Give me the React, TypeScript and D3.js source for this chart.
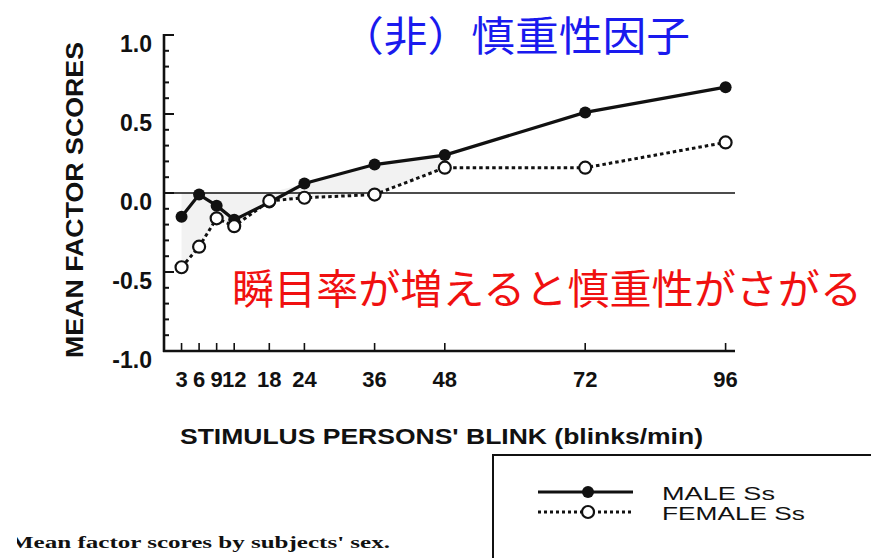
import React from "react";
import * as d3 from "d3";

const blinkRates = [3, 6, 9, 12, 18, 24, 36, 48, 72, 96];
const maleScores = [-0.15, -0.01, -0.08, -0.17, -0.06, 0.06, 0.18, 0.24, 0.51, 0.67];
const femaleScores = [-0.47, -0.34, -0.16, -0.21, -0.05, -0.03, -0.01, 0.16, 0.16, 0.32];
const yTickLabels = ["1.0", "0.5", "0.0", "-0.5", "-1.0"];
const yTickValues = [1, 0.5, 0, -0.5, -1];
const seriesNames = ["MALE Ss", "FEMALE Ss"];

const FONT = "'Liberation Sans', Arial, sans-serif";
const JP = "'Noto Sans CJK JP', 'Noto Sans CJK SC', sans-serif";

export default function App() {
  const x = d3.scaleLinear().domain([0, 96]).range([164, 725.6]);
  const y = d3.scaleLinear().domain([-1, 1]).range([351, 35]);
  const xEnd = 735;

  const male = blinkRates.map((b, i) => ({ b, v: maleScores[i] }));
  const female = blinkRates.map((b, i) => ({ b, v: femaleScores[i] }));

  const line = d3
    .line<{ b: number; v: number }>()
    .x((d) => x(d.b))
    .y((d) => y(d.v));

  const shade = blinkRates
    .map((b, i) => ({ b, top: Math.max(0, maleScores[i]), bot: femaleScores[i] }))
    .filter((d) => d.b <= 48);
  const area = d3
    .area<{ b: number; top: number; bot: number }>()
    .x((d) => x(d.b))
    .y0((d) => y(d.top))
    .y1((d) => y(d.bot));

  const minorTicks = d3.range(-10, 11).map((k) => k / 10);

  return (
    <svg
      width={871}
      height={558}
      style={{ position: "absolute", left: 0, top: 0, background: "#fff" }}
    >
      <defs>
        <clipPath id="capClip">
          <rect x={17} y={500} width={860} height={58} />
        </clipPath>
      </defs>
      <rect x={0} y={0} width={871} height={558} fill="#fff" />

      {/* shaded region */}
      <path d={area(shade) || ""} fill="#f2f2f2" />

      {/* zero line */}
      <line x1={x(0)} x2={xEnd} y1={y(0)} y2={y(0)} stroke="#111" strokeWidth={1.6} />

      {/* y axis */}
      <line x1={x(0)} x2={x(0)} y1={y(1) - 1} y2={y(-1) + 1} stroke="#111" strokeWidth={2.6} />
      {minorTicks.map((t) => (
        <line
          key={t}
          x1={x(0)}
          x2={x(0) + (Math.abs(t * 2 - Math.round(t * 2)) < 1e-6 ? 10 : 5)}
          y1={y(t)}
          y2={y(t)}
          stroke="#111"
          strokeWidth={2}
        />
      ))}
      {yTickValues.map((t, i) => (
        <text
          key={t}
          x={152}
          y={y(t) + 17}
          textAnchor="end"
          fontFamily={FONT}
          fontSize={23}
          fontWeight="bold"
          fill="#111"
        >
          {yTickLabels[i]}
        </text>
      ))}

      {/* x axis */}
      <line x1={x(0) - 1} x2={xEnd} y1={y(-1)} y2={y(-1)} stroke="#111" strokeWidth={2.6} />
      {blinkRates.map((b) => (
        <line key={b} x1={x(b)} x2={x(b)} y1={y(-1)} y2={y(-1) - 8} stroke="#111" strokeWidth={1.6} />
      ))}
      {blinkRates.map((b) => (
        <text
          key={b}
          x={x(b)}
          y={387}
          textAnchor="middle"
          fontFamily={FONT}
          fontSize={22}
          fontWeight="bold"
          fill="#111"
        >
          {b}
        </text>
      ))}

      {/* axis titles */}
      <text
        x={180}
        y={444}
        fontFamily={FONT}
        fontSize={22}
        fontWeight="bold"
        fill="#111"
        textLength={523}
        lengthAdjust="spacingAndGlyphs"
      >
        STIMULUS PERSONS' BLINK (blinks/min)
      </text>
      <text
        transform="translate(83,200) rotate(-90)"
        textAnchor="middle"
        fontFamily={FONT}
        fontSize={23}
        fontWeight="bold"
        fill="#111"
        textLength={316}
        lengthAdjust="spacingAndGlyphs"
      >
        MEAN FACTOR SCORES
      </text>

      {/* series lines */}
      <path d={line(female) || ""} fill="none" stroke="#111" strokeWidth={3} strokeDasharray="3.5 3" />
      <path d={line(male) || ""} fill="none" stroke="#111" strokeWidth={3.2} />
      {male.map((d) => (
        <circle key={"m" + d.b} cx={x(d.b)} cy={y(d.v)} r={6} fill="#111" />
      ))}
      {female.map((d) => (
        <circle key={"f" + d.b} cx={x(d.b)} cy={y(d.v)} r={6} fill="#fff" stroke="#111" strokeWidth={2.2} />
      ))}

      {/* annotations */}
      <text
        x={340}
        y={51}
        fontFamily={JP}
        fontSize={41}
        fill="#1a1aee"
        textLength={350}
        lengthAdjust="spacingAndGlyphs"
      >
        （非）慎重性因子
      </text>
      <text
        x={232}
        y={304}
        fontFamily={JP}
        fontSize={41}
        fill="#f01010"
        textLength={630}
        lengthAdjust="spacingAndGlyphs"
      >
        瞬目率が増えると慎重性がさがる
      </text>

      {/* legend */}
      <rect x={493} y={455} width={400} height={120} fill="#fff" stroke="#111" strokeWidth={2} />
      <line x1={538} x2={633} y1={492} y2={492} stroke="#111" strokeWidth={3} />
      <circle cx={588} cy={492} r={6} fill="#111" />
      <line x1={538} x2={633} y1={512} y2={512} stroke="#111" strokeWidth={3} strokeDasharray="3 3" />
      <circle cx={588} cy={512} r={6} fill="#fff" stroke="#111" strokeWidth={2.2} />
      <text
        x={662}
        y={500}
        fontFamily={FONT}
        fontSize={19}
        fill="#111"
        textLength={113}
        lengthAdjust="spacingAndGlyphs"
      >
        {seriesNames[0]}
      </text>
      <text
        x={662}
        y={520}
        fontFamily={FONT}
        fontSize={19}
        fill="#111"
        textLength={143}
        lengthAdjust="spacingAndGlyphs"
      >
        {seriesNames[1]}
      </text>

      {/* caption */}
      <g clipPath="url(#capClip)">
        <text
          x={10}
          y={548}
          fontFamily="'Liberation Serif', serif"
          fontSize={17}
          fontWeight="bold"
          fill="#111"
          textLength={380}
          lengthAdjust="spacingAndGlyphs"
        >
          Mean factor scores by subjects' sex.
        </text>
      </g>
    </svg>
  );
}
